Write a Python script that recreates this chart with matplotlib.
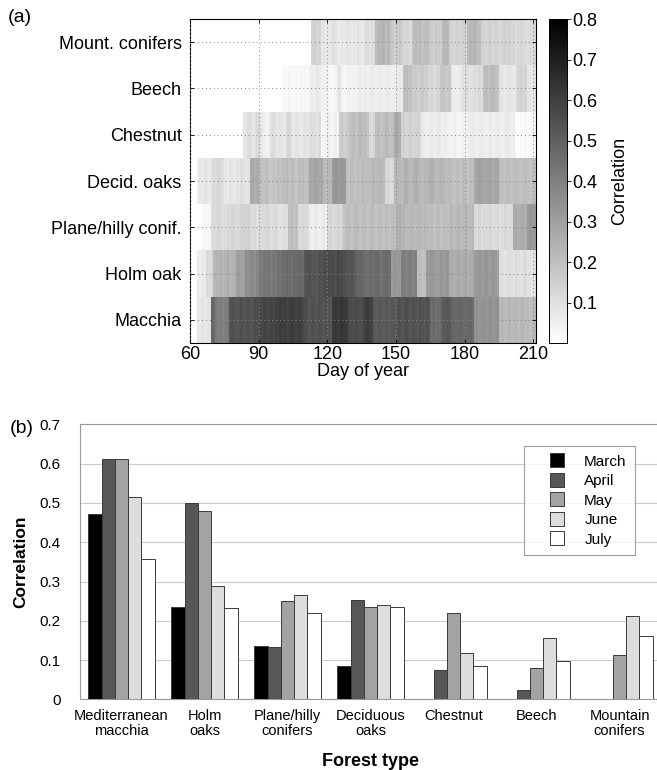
import numpy as np
import matplotlib
matplotlib.use('Agg')
import matplotlib.pyplot as plt
from matplotlib.lines import Line2D

plt.rcParams['font.family'] = ['Liberation Sans', 'DejaVu Sans']

# ---- panel (a): daily correlation, one value per day from day 60 to day 210
first_day = 60
row_labels = ['Macchia', 'Holm oak', 'Plane/hilly conif.', 'Decid. oaks',
              'Chestnut', 'Beech', 'Mount. conifers']

mount_conifers = [
    0, 0, 0, 0, 0, 0, 0, 0, 0, 0,
    0, 0, 0, 0, 0, 0, 0, 0, 0, 0,
    0, 0, 0, 0, 0, 0, 0, 0, 0, 0,
    0, 0, 0, 0, 0, 0, 0, 0, 0, 0,
    0, 0, 0, 0, 0, 0, 0, 0, 0, 0,
    0, 0, 0, 0.14, 0.15, 0.13, 0.14, 0.08, 0.09, 0.07,
    0.07, 0.08, 0.10, 0.09, 0.07, 0.06, 0.08, 0.07, 0.09, 0.08,
    0.07, 0.08, 0.07, 0.09, 0.08, 0.07, 0.10, 0.11, 0.09, 0.10,
    0.10, 0.21, 0.23, 0.22, 0.24, 0.20, 0.23, 0.21, 0.17, 0.15,
    0.16, 0.17, 0.15, 0.12, 0.13, 0.12, 0.11, 0.19, 0.21, 0.20,
    0.22, 0.19, 0.20, 0.21, 0.18, 0.16, 0.15, 0.17, 0.16, 0.15,
    0.21, 0.23, 0.22, 0.15, 0.14, 0.13, 0.15, 0.14, 0.13, 0.15,
    0.14, 0.21, 0.23, 0.22, 0.24, 0.21, 0.20, 0.15, 0.14, 0.13,
    0.15, 0.14, 0.13, 0.15, 0.14, 0.12, 0.14, 0.15, 0.13, 0.14,
    0.12, 0.13, 0.11, 0.12, 0.13, 0.12, 0.11, 0.10, 0.12, 0.11,
    0.12]

beech = [
    0, 0, 0, 0, 0, 0, 0, 0, 0, 0,
    0, 0, 0, 0, 0, 0, 0, 0, 0, 0,
    0, 0, 0, 0, 0, 0, 0, 0, 0, 0,
    0, 0, 0, 0, 0, 0, 0, 0, 0, 0,
    0.02, 0.03, 0.02, 0.03, 0.02, 0.02, 0.03, 0.02, 0.03, 0.02,
    0.03, 0.02, 0.05, 0.06, 0.05, 0.08, 0.06, 0.05, 0.04, 0.05,
    0.03, 0.03, 0.02, 0.04, 0.08, 0.09, 0.04, 0.03, 0.04, 0.05,
    0.04, 0.05, 0.04, 0.05, 0.06, 0.05, 0.06, 0.05, 0.06, 0.07,
    0.06, 0.05, 0.06, 0.06, 0.05, 0.06, 0.07, 0.06, 0.05, 0.06,
    0.06, 0.07, 0.06, 0.20, 0.21, 0.19, 0.20, 0.16, 0.17, 0.15,
    0.16, 0.17, 0.15, 0.16, 0.12, 0.13, 0.11, 0.12, 0.13, 0.18,
    0.19, 0.18, 0.17, 0.18, 0.07, 0.06, 0.05, 0.06, 0.07, 0.10,
    0.11, 0.10, 0.09, 0.10, 0.11, 0.10, 0.12, 0.11, 0.20, 0.21,
    0.19, 0.21, 0.22, 0.20, 0.19, 0.09, 0.08, 0.07, 0.08, 0.09,
    0.08, 0.07, 0.09, 0.14, 0.15, 0.13, 0.14, 0.08, 0.09, 0.07,
    0.08]

chestnut = [
    0, 0, 0, 0, 0, 0, 0, 0, 0, 0,
    0, 0, 0, 0, 0, 0, 0, 0, 0, 0,
    0, 0, 0, 0.09, 0.08, 0.11, 0.10, 0.07, 0.09, 0.12,
    0.10, 0.08, 0.05, 0.04, 0.05, 0.10, 0.11, 0.09, 0.08, 0.09,
    0.08, 0.07, 0.12, 0.13, 0.08, 0.07, 0.09, 0.08, 0.07, 0.08,
    0.09, 0.08, 0.10, 0.11, 0.10, 0.09, 0.11, 0.04, 0.03, 0.04,
    0.05, 0.03, 0.04, 0.05, 0.04, 0.16, 0.17, 0.15, 0.16, 0.18,
    0.20, 0.21, 0.19, 0.20, 0.22, 0.20, 0.21, 0.19, 0.12, 0.11,
    0.13, 0.20, 0.21, 0.19, 0.20, 0.22, 0.21, 0.19, 0.20, 0.26,
    0.27, 0.25, 0.14, 0.15, 0.13, 0.14, 0.15, 0.13, 0.14, 0.15,
    0.13, 0.07, 0.06, 0.05, 0.06, 0.07, 0.05, 0.06, 0.07, 0.06,
    0.05, 0.06, 0.05, 0.04, 0.04, 0.05, 0.04, 0.03, 0.04, 0.05,
    0.04, 0.05, 0.06, 0.07, 0.06, 0.05, 0.06, 0.07, 0.06, 0.05,
    0.06, 0.07, 0.05, 0.06, 0.07, 0.06, 0.05, 0.06, 0.07, 0.06,
    0.05, 0.06, 0.02, 0.01, 0.02, 0.01, 0.02, 0.01, 0.02, 0.01,
    0.02]

decid_oaks = [
    0, 0, 0, 0.05, 0.08, 0.07, 0.09, 0.08, 0.07, 0.10,
    0.12, 0.11, 0.13, 0.12, 0.10, 0.08, 0.07, 0.09, 0.08, 0.07,
    0.09, 0.08, 0.10, 0.09, 0.08, 0.09, 0.26, 0.27, 0.25, 0.26,
    0.21, 0.20, 0.19, 0.21, 0.18, 0.17, 0.19, 0.18, 0.20, 0.19,
    0.21, 0.20, 0.22, 0.19, 0.21, 0.20, 0.18, 0.22, 0.20, 0.21,
    0.19, 0.20, 0.28, 0.27, 0.29, 0.28, 0.27, 0.28, 0.22, 0.21,
    0.23, 0.22, 0.31, 0.33, 0.32, 0.31, 0.33, 0.32, 0.20, 0.19,
    0.21, 0.20, 0.19, 0.21, 0.20, 0.22, 0.20, 0.21, 0.20, 0.22,
    0.23, 0.21, 0.22, 0.23, 0.21, 0.12, 0.13, 0.11, 0.12, 0.22,
    0.23, 0.22, 0.21, 0.24, 0.25, 0.22, 0.21, 0.23, 0.25, 0.24,
    0.22, 0.21, 0.23, 0.22, 0.24, 0.25, 0.23, 0.21, 0.22, 0.24,
    0.23, 0.22, 0.21, 0.22, 0.20, 0.19, 0.21, 0.20, 0.19, 0.21,
    0.20, 0.19, 0.21, 0.20, 0.27, 0.28, 0.30, 0.29, 0.27, 0.28,
    0.29, 0.28, 0.27, 0.29, 0.28, 0.21, 0.20, 0.19, 0.21, 0.20,
    0.19, 0.20, 0.21, 0.20, 0.19, 0.20, 0.21, 0.20, 0.19, 0.20,
    0.20]

plane_hilly = [
    0, 0, 0, 0, 0, 0.02, 0.03, 0.02, 0.03, 0.11,
    0.12, 0.11, 0.13, 0.12, 0.10, 0.11, 0.12, 0.11, 0.13, 0.12,
    0.11, 0.12, 0.14, 0.15, 0.14, 0.15, 0.12, 0.11, 0.12, 0.10,
    0.11, 0.12, 0.11, 0.13, 0.12, 0.10, 0.11, 0.12, 0.10, 0.09,
    0.10, 0.11, 0.10, 0.20, 0.21, 0.19, 0.20, 0.12, 0.11, 0.13,
    0.12, 0.11, 0.06, 0.05, 0.07, 0.06, 0.05, 0.06, 0.07, 0.05,
    0.12, 0.13, 0.11, 0.12, 0.14, 0.12, 0.13, 0.19, 0.20, 0.21,
    0.19, 0.20, 0.22, 0.21, 0.19, 0.20, 0.21, 0.19, 0.20, 0.22,
    0.20, 0.19, 0.21, 0.20, 0.19, 0.21, 0.20, 0.19, 0.21, 0.20,
    0.24, 0.25, 0.23, 0.24, 0.22, 0.21, 0.23, 0.22, 0.21, 0.23,
    0.22, 0.21, 0.23, 0.22, 0.20, 0.21, 0.19, 0.20, 0.21, 0.19,
    0.20, 0.21, 0.20, 0.22, 0.23, 0.21, 0.22, 0.23, 0.21, 0.22,
    0.23, 0.22, 0.21, 0.23, 0.12, 0.11, 0.13, 0.10, 0.12, 0.11,
    0.12, 0.13, 0.10, 0.11, 0.12, 0.10, 0.11, 0.13, 0.12, 0.11,
    0.12, 0.26, 0.27, 0.25, 0.26, 0.27, 0.25, 0.31, 0.33, 0.32,
    0.31]

holm_oak = [
    0, 0, 0, 0.06, 0.05, 0.07, 0.06, 0.12, 0.11, 0.13,
    0.22, 0.24, 0.23, 0.25, 0.22, 0.24, 0.26, 0.23, 0.24, 0.25,
    0.30, 0.31, 0.29, 0.30, 0.36, 0.35, 0.37, 0.36, 0.35, 0.38,
    0.42, 0.41, 0.43, 0.42, 0.44, 0.41, 0.43, 0.42, 0.45, 0.44,
    0.46, 0.45, 0.47, 0.46, 0.45, 0.47, 0.46, 0.48, 0.47, 0.46,
    0.53, 0.54, 0.55, 0.53, 0.54, 0.52, 0.55, 0.54, 0.56, 0.55,
    0.57, 0.56, 0.57, 0.55, 0.58, 0.56, 0.57, 0.55, 0.54, 0.53,
    0.54, 0.52, 0.50, 0.48, 0.49, 0.47, 0.46, 0.45, 0.47, 0.46,
    0.45, 0.47, 0.46, 0.44, 0.45, 0.47, 0.46, 0.45, 0.32, 0.33,
    0.31, 0.32, 0.40, 0.41, 0.39, 0.40, 0.41, 0.38, 0.40, 0.20,
    0.21, 0.19, 0.20, 0.32, 0.31, 0.33, 0.32, 0.30, 0.31, 0.33,
    0.32, 0.31, 0.33, 0.26, 0.27, 0.25, 0.26, 0.27, 0.25, 0.26,
    0.27, 0.25, 0.26, 0.27, 0.31, 0.32, 0.33, 0.31, 0.32, 0.33,
    0.31, 0.32, 0.33, 0.31, 0.30, 0.11, 0.10, 0.09, 0.10, 0.11,
    0.10, 0.09, 0.11, 0.10, 0.09, 0.10, 0.11, 0.09, 0.10, 0.08,
    0.09]

macchia = [
    0, 0, 0, 0.08, 0.06, 0.09, 0.07, 0.08, 0.09, 0.48,
    0.47, 0.42, 0.40, 0.41, 0.39, 0.40, 0.42, 0.53, 0.55, 0.54,
    0.53, 0.54, 0.55, 0.53, 0.54, 0.55, 0.53, 0.54, 0.56, 0.55,
    0.58, 0.57, 0.59, 0.58, 0.57, 0.59, 0.58, 0.60, 0.59, 0.61,
    0.60, 0.61, 0.59, 0.60, 0.62, 0.60, 0.59, 0.61, 0.60, 0.58,
    0.56, 0.54, 0.53, 0.55, 0.54, 0.53, 0.55, 0.54, 0.53, 0.55,
    0.54, 0.53, 0.62, 0.63, 0.61, 0.62, 0.64, 0.62, 0.61, 0.57,
    0.56, 0.55, 0.57, 0.56, 0.55, 0.57, 0.60, 0.61, 0.60, 0.59,
    0.52, 0.51, 0.53, 0.52, 0.51, 0.53, 0.52, 0.51, 0.53, 0.52,
    0.54, 0.55, 0.53, 0.54, 0.56, 0.54, 0.53, 0.55, 0.54, 0.53,
    0.55, 0.54, 0.53, 0.55, 0.54, 0.46, 0.47, 0.45, 0.46, 0.47,
    0.52, 0.51, 0.53, 0.52, 0.49, 0.48, 0.47, 0.48, 0.49, 0.47,
    0.48, 0.47, 0.48, 0.46, 0.34, 0.35, 0.33, 0.34, 0.35, 0.33,
    0.34, 0.35, 0.33, 0.34, 0.35, 0.22, 0.23, 0.21, 0.22, 0.23,
    0.21, 0.22, 0.23, 0.21, 0.22, 0.23, 0.21, 0.22, 0.20, 0.21,
    0.22]

# ---- panel (b): monthly correlation by forest type
forest_types = ['Mediterranean\nmacchia', 'Holm\noaks', 'Plane/hilly\nconifers',
                'Deciduous\noaks', 'Chestnut', 'Beech', 'Mountain\nconifers']
months = ['March', 'April', 'May', 'June', 'July']
corr_march = [0.472, 0.234, 0.136, 0.086, np.nan, np.nan, np.nan]
corr_april = [0.613, 0.501, 0.134, 0.253, 0.075, 0.023, np.nan]
corr_may = [0.613, 0.479, 0.250, 0.234, 0.221, 0.081, 0.113]
corr_june = [0.514, 0.288, 0.266, 0.241, 0.117, 0.155, 0.211]
corr_july = [0.357, 0.232, 0.219, 0.236, 0.085, 0.098, 0.160]
month_colors = ['#000000', '#575757', '#a3a3a3', '#dddddd', '#ffffff']


fig = plt.figure(figsize=(6.57, 7.7), dpi=100)

# (a) heat map
ax = fig.add_axes([0.2892, 0.5545, 0.5262, 0.4208])
Z = np.array([macchia, holm_oak, plane_hilly, decid_oaks, chestnut, beech, mount_conifers])
x_edges = np.arange(first_day, first_day + Z.shape[1] + 1)
y_edges = np.arange(Z.shape[0] + 1)
mesh = ax.pcolormesh(x_edges, y_edges, Z, cmap='gray_r', vmin=0, vmax=0.8, shading='flat')
ax.set_xlim(x_edges[0], x_edges[-1])
ax.set_ylim(0, Z.shape[0])
ax.set_xticks([60, 90, 120, 150, 180, 210])
ax.set_yticks(np.arange(Z.shape[0]) + 0.5)
ax.set_yticklabels(row_labels)
ax.tick_params(direction='in', top=True, right=True, length=3, width=0.6, labelsize=13, pad=2)
ax.tick_params(axis='y', pad=6)
ax.grid(True, linestyle=(0, (1, 3)), color='#888888', linewidth=0.7)
ax.set_axisbelow(False)
for s in ax.spines.values():
    s.set_linewidth(0.8)
ax.set_xlabel('Day of year', fontsize=13, labelpad=0)

cax = fig.add_axes([0.8356, 0.5545, 0.0274, 0.4208])
cb = fig.colorbar(mesh, cax=cax, ticks=[0.1, 0.2, 0.3, 0.4, 0.5, 0.6, 0.7, 0.8])
cb.outline.set_linewidth(0.7)
cax.tick_params(labelsize=13, length=3, width=0.6, pad=1)
cax.set_ylabel('Correlation', fontsize=13, labelpad=10)

fig.text(0.012, 0.977, '(a)', fontsize=14, va='center', ha='left')

# (b) grouped bars
bx = fig.add_axes([0.1218, 0.0918, 0.8843, 0.357])
series = [corr_march, corr_april, corr_may, corr_june, corr_july]
xpos = np.arange(len(forest_types))
w = 0.16
for i, vals in enumerate(series):
    bx.bar(xpos + (i - 2) * w, vals, width=w, color=month_colors[i],
           edgecolor='#3a3a3a', linewidth=0.7, zorder=3)
bx.set_xlim(-0.5, len(forest_types) - 0.5)
bx.set_ylim(0, 0.7)
bx.set_yticks(np.arange(0, 0.71, 0.1))
bx.set_yticklabels(['0', '0.1', '0.2', '0.3', '0.4', '0.5', '0.6', '0.7'])
bx.set_xticks(xpos)
bx.set_xticklabels(forest_types, linespacing=1.1)
bx.tick_params(length=0, labelsize=10.5)
bx.tick_params(axis='y', pad=14, labelsize=11)
bx.tick_params(axis='x', pad=7)
bx.yaxis.grid(True, color='#cccccc', linewidth=0.8, zorder=0)
bx.set_axisbelow(True)
for s in bx.spines.values():
    s.set_color('#999999')
    s.set_linewidth(0.8)
bx.set_xlabel('Forest type', fontsize=13, fontweight='bold', labelpad=11)
bx.set_ylabel('Correlation', fontsize=12.5, fontweight='bold', labelpad=8)

handles = [Line2D([], [], linestyle='none', marker='s', markersize=9.5,
                  markerfacecolor=c, markeredgecolor='#3a3a3a', markeredgewidth=0.7)
           for c in month_colors]
leg = bx.legend(handles, months, loc='upper left', bbox_to_anchor=(0.764, 0.921),
                fontsize=11, frameon=True, fancybox=False, handlelength=3.2,
                handletextpad=0.2, labelspacing=0.36,
                borderpad=0.55, borderaxespad=0)
leg.get_frame().set_edgecolor('#888888')
leg.get_frame().set_linewidth(0.8)

fig.text(0.015, 0.444, '(b)', fontsize=14, va='center', ha='left')

fig.savefig('out.png', dpi=100)
